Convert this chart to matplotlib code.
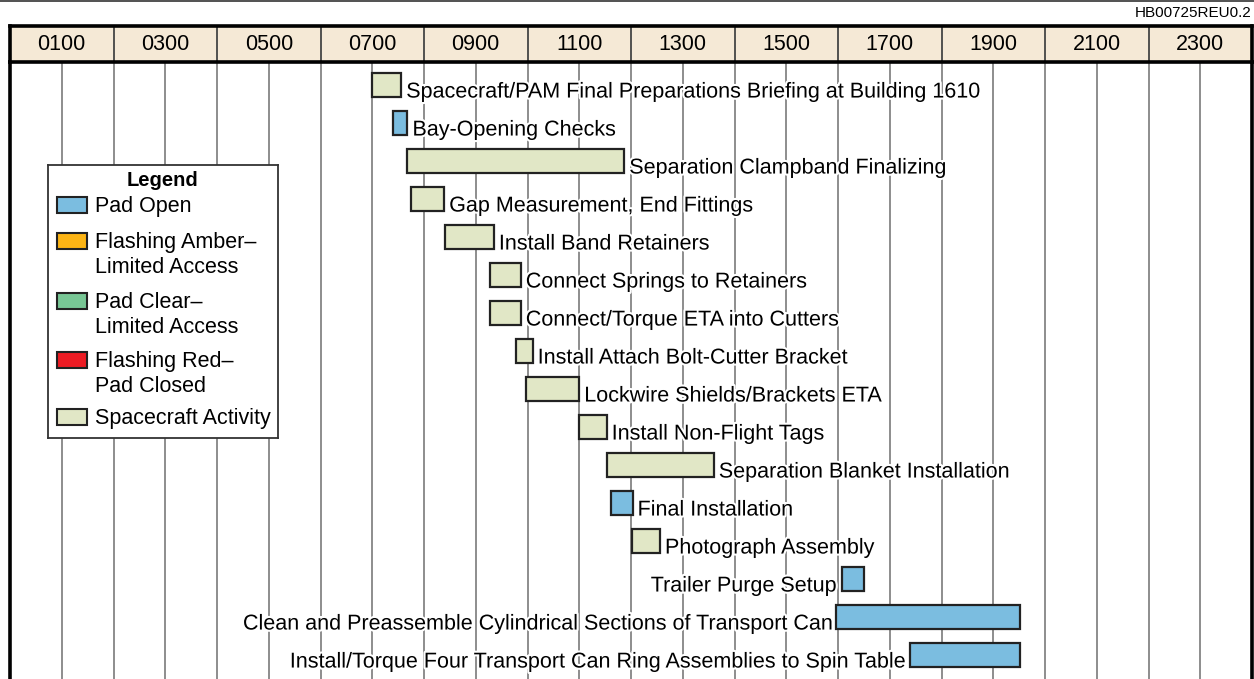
import matplotlib.pyplot as plt
import matplotlib.patheffects as pe
from matplotlib.patches import Rectangle
from matplotlib.lines import Line2D

plt.rcParams['font.family'] = ['Liberation Sans', 'DejaVu Sans']

# --- data -------------------------------------------------------------
tasks = [
    'Spacecraft/PAM Final Preparations Briefing at Building 1610',
    'Bay-Opening Checks',
    'Separation Clampband Finalizing',
    'Gap Measurement, End Fittings',
    'Install Band Retainers',
    'Connect Springs to Retainers',
    'Connect/Torque ETA into Cutters',
    'Install Attach Bolt-Cutter Bracket',
    'Lockwire Shields/Brackets ETA',
    'Install Non-Flight Tags',
    'Separation Blanket Installation',
    'Final Installation',
    'Photograph Assembly',
    'Trailer Purge Setup',
    'Clean and Preassemble Cylindrical Sections of Transport Can',
    'Install/Torque Four Transport Can Ring Assemblies to Spin Table',
]
start_hr = [7.0, 7.4, 7.68, 7.75, 8.4, 9.28, 9.28, 9.77, 9.98, 11.0,
            11.53, 11.61, 12.02, 16.07, 15.97, 17.39]
end_hr = [7.56, 7.68, 11.87, 8.39, 9.35, 9.87, 9.87, 10.1, 11.0, 11.53,
          13.6, 12.03, 12.56, 16.51, 19.52, 19.52]
status = ['sc', 'open', 'sc', 'sc', 'sc', 'sc', 'sc', 'sc', 'sc', 'sc',
          'sc', 'open', 'sc', 'open', 'open', 'open']
label_side = ['right'] * 13 + ['left'] * 3

hour_labels = ['0100', '0300', '0500', '0700', '0900', '1100',
               '1300', '1500', '1700', '1900', '2100', '2300']

legend_labels = ['Pad Open', 'Flashing Amber–\nLimited Access',
                 'Pad Clear–\nLimited Access', 'Flashing Red–\nPad Closed',
                 'Spacecraft Activity']
legend_colors = ['#7bbde0', '#fdb515', '#78c795', '#ed1c24', '#e1e7c6']

colors = {'open': '#7bbde0', 'sc': '#e1e7c6'}

# --- figure -----------------------------------------------------------
W, H = 1254, 679
fig = plt.figure(figsize=(W / 100, H / 100), dpi=100)


def px_axes(x0, y0, x1, y1):
    return fig.add_axes([x0 / W, 1 - y1 / H, (x1 - x0) / W, (y1 - y0) / H])


# main chart body
ax = px_axes(10, 62, 1252, 679)
ax.set_xlim(0, 24)
ax.set_ylim((679 - 85) / 38, -(85 - 62) / 38)
ax.set_xticks([])
ax.set_yticks([])
for h in range(1, 24):
    ax.axvline(h, color='#7a7a7a', lw=1.2, zorder=0)
for s in ['top', 'bottom']:
    ax.spines[s].set_visible(False)
for s in ['left', 'right']:
    ax.spines[s].set_linewidth(2.6)
    ax.spines[s].set_color('black')

rows = list(range(len(tasks)))
widths = [e - s for s, e in zip(start_hr, end_hr)]
ax.barh(rows, widths, left=start_hr, height=0.63,
        color=[colors[k] for k in status], edgecolor='#222222',
        linewidth=1.6, zorder=2)

halo = [pe.withStroke(linewidth=3, foreground='white')]
for r, name, s, e, side in zip(rows, tasks, start_hr, end_hr, label_side):
    if side == 'right':
        ax.annotate(name, xy=(e, r + 0.33), xytext=(5, 0),
                    textcoords='offset pixels', ha='left', va='baseline',
                    fontsize=15.5, zorder=3, path_effects=halo)
    else:
        ax.annotate(name, xy=(s, r + 0.33), xytext=(-5, 0),
                    textcoords='offset pixels', ha='right', va='baseline',
                    fontsize=15.5, zorder=3, path_effects=halo)

# header band
hax = px_axes(10, 26, 1252, 62)
hax.set_facecolor('#f5e9d6')
hax.set_xlim(0, 24)
hax.set_ylim(0, 1)
hax.set_xticks([])
hax.set_yticks([])
for h in range(2, 24, 2):
    hax.axvline(h, color='#444444', lw=1.3)
for i, lab in enumerate(hour_labels):
    hax.text(2 * i + 1, 0.5, lab, ha='center', va='center', fontsize=15.5)
for s in hax.spines.values():
    s.set_linewidth(2.6)
    s.set_color('black')

# legend box
lax = px_axes(48, 165, 278, 438)
lax.set_xlim(0, 230)
lax.set_ylim(273, 0)
lax.set_xticks([])
lax.set_yticks([])
lax.set_facecolor('white')
for s in lax.spines.values():
    s.set_linewidth(1.3)
    s.set_color('#333333')
lax.text(115, 16, 'Legend', ha='center', va='center', fontsize=14.5,
         fontweight='bold')
entry_y = [40, 76, 136, 195, 252]
for y, lab, c in zip(entry_y, legend_labels, legend_colors):
    lax.add_patch(Rectangle((9, y - 8), 30, 16, facecolor=c,
                            edgecolor='#222222', lw=1.5))
    lax.text(47, y - 9, lab, ha='left', va='top', fontsize=15.5,
             linespacing=1.22)

# top rule and drawing id
fig.add_artist(Line2D([0, 1], [1 - 1 / H, 1 - 1 / H], color='#333333',
                      lw=1.2, transform=fig.transFigure))
fig.text(1252 / W, 1 - 13 / H, 'HB00725REU0.2', ha='right', va='center',
         fontsize=11)

fig.savefig('out.png', dpi=100)
